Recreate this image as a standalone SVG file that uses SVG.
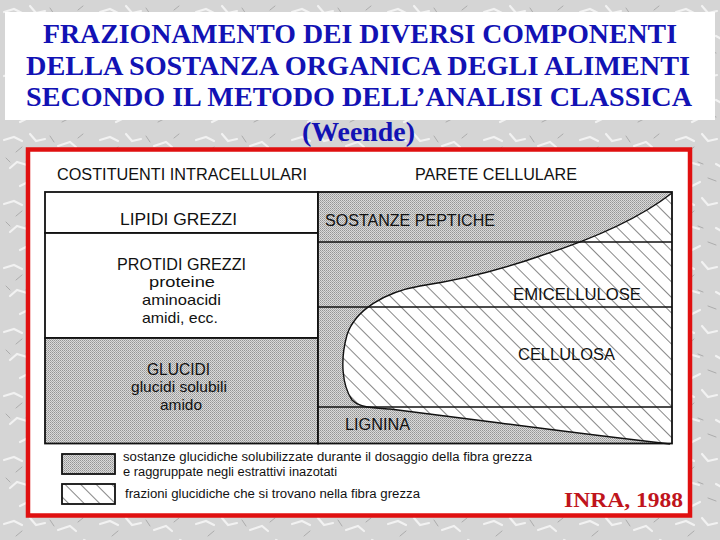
<svg xmlns="http://www.w3.org/2000/svg" width="720" height="540" viewBox="0 0 720 540">
<defs>
  <pattern id="marble" width="96" height="64" patternUnits="userSpaceOnUse">
    <rect width="96" height="64" fill="#d5d5d5"/>
    <path d="M4,12 l10,-3 l8,4 M30,6 l6,7 l9,-2 M58,18 l12,-4 l6,5 M10,40 l7,-6 l10,3 M44,36 l9,5 l8,-6 M70,48 l10,2 l8,-5 M20,58 l8,-4 M84,28 l7,4" fill="none" stroke="#f2f2f2" stroke-width="2.2" stroke-linecap="round"/>
    <path d="M16,24 l6,-5 M50,8 l4,6 M36,50 l8,3 M78,10 l5,-4 M6,30 l4,4 M62,58 l6,-3 M88,44 l-5,6 M26,34 l5,2" fill="none" stroke="#acacac" stroke-width="1" stroke-linecap="round"/>
  </pattern>
  <pattern id="dots" width="2" height="2" patternUnits="userSpaceOnUse">
    <rect width="2" height="2" fill="#dadada"/>
    <rect width="1" height="1" fill="#959595"/>
    <rect x="1" y="1" width="1" height="1" fill="#ababab"/>
  </pattern>
  <pattern id="hatch" width="11" height="11" patternUnits="userSpaceOnUse" patternTransform="rotate(-45)">
    <rect width="11" height="11" fill="#ffffff"/>
    <line x1="0" y1="0" x2="0" y2="11" stroke="#222" stroke-width="1.1"/>
  </pattern>
  <style>
    .title{font-family:"Liberation Serif","Times New Roman",serif;font-weight:bold;font-size:27px;fill:#1212b4}
    .lbl{font-family:"Liberation Sans",Arial,sans-serif;font-size:16px;fill:#111}
    .sub{font-family:"Liberation Sans",Arial,sans-serif;font-size:15px;fill:#111}
    .leg{font-family:"Liberation Sans",Arial,sans-serif;font-size:12.5px;fill:#111}
    .edge{stroke:#111;stroke-width:1.8}
    .thin{fill:none;stroke:#111;stroke-width:1.4}
    .white{fill:#ffffff}
    .gray{fill:url(#dots)}
    .hatched{fill:url(#hatch)}
  </style>
</defs>

<rect width="720" height="540" fill="url(#marble)"/>

<g id="title">
  <rect x="5" y="12" width="710" height="108" fill="#ffffff"/>
  <text class="title" x="43" y="43" textLength="634" lengthAdjust="spacingAndGlyphs">FRAZIONAMENTO DEI DIVERSI COMPONENTI</text>
  <text class="title" x="26" y="75" textLength="664" lengthAdjust="spacingAndGlyphs">DELLA SOSTANZA ORGANICA DEGLI ALIMENTI</text>
  <text class="title" x="26" y="106" textLength="666" lengthAdjust="spacingAndGlyphs">SECONDO IL METODO DELL’ANALISI CLASSICA</text>
  <text class="title" x="302" y="141" textLength="113" lengthAdjust="spacingAndGlyphs">(Weende)</text>
</g>

<g id="frame">
  <rect x="28" y="149.5" width="662" height="366" fill="#ffffff" stroke="#e01010" stroke-width="4.5"/>
</g>

<g id="headers">
  <text class="lbl" x="57" y="180" textLength="250" lengthAdjust="spacingAndGlyphs">COSTITUENTI INTRACELLULARI</text>
  <text class="lbl" x="415" y="180" textLength="162" lengthAdjust="spacingAndGlyphs">PARETE CELLULARE</text>
</g>

<g id="lipidi">
  <rect x="45" y="192" width="273" height="41" class="white edge"/>
  <text class="lbl" x="120" y="225" textLength="117" lengthAdjust="spacingAndGlyphs">LIPIDI GREZZI</text>
</g>
<g id="protidi">
  <rect x="45" y="233" width="273" height="105" class="white edge"/>
  <text class="lbl" x="117" y="270" textLength="129" lengthAdjust="spacingAndGlyphs">PROTIDI GREZZI</text>
  <text class="sub" x="149" y="287" textLength="66" lengthAdjust="spacingAndGlyphs">proteine</text>
  <text class="sub" x="142" y="305" textLength="79" lengthAdjust="spacingAndGlyphs">aminoacidi</text>
  <text class="sub" x="142" y="323" textLength="76" lengthAdjust="spacingAndGlyphs">amidi, ecc.</text>
</g>
<g id="glucidi">
  <rect x="45" y="338" width="273" height="105.5" class="gray edge"/>
  <text class="lbl" x="147" y="375" textLength="63" lengthAdjust="spacingAndGlyphs">GLUCIDI</text>
  <text class="sub" x="131" y="392" textLength="96" lengthAdjust="spacingAndGlyphs">glucidi solubili</text>
  <text class="sub" x="160" y="410" textLength="42" lengthAdjust="spacingAndGlyphs">amido</text>
</g>

<g id="parete">
  <rect x="318" y="192" width="354" height="251.5" class="gray"/>
  <path id="fibra" class="hatched" d="M672,193 C640,218 590,240 540,256 C500,270 460,280 420,286 C385,292 355,310 347,335 C340,360 342,385 352,400 C360,408 375,408 390,409 L500,423 Q600,436 670,444 L672,444 Z"/>
  <path d="M672,193 C640,218 590,240 540,256 C500,270 460,280 420,286 C385,292 355,310 347,335 C340,360 342,385 352,400 C360,408 375,408 390,409 L500,423 Q600,436 670,444" class="thin"/>
  <line x1="318" y1="242" x2="672" y2="242" class="thin"/>
  <line x1="318" y1="307" x2="672" y2="307" class="thin"/>
  <line x1="318" y1="407" x2="672" y2="407" class="thin"/>
  <rect x="318" y="192" width="354" height="251.5" fill="none" class="edge"/>
  <text class="lbl" x="325" y="226" textLength="170" lengthAdjust="spacingAndGlyphs">SOSTANZE PEPTICHE</text>
  <text class="lbl" x="513" y="300" textLength="128" lengthAdjust="spacingAndGlyphs">EMICELLULOSE</text>
  <text class="lbl" x="518" y="360" textLength="97" lengthAdjust="spacingAndGlyphs">CELLULOSA</text>
  <text class="lbl" x="345" y="430" textLength="65" lengthAdjust="spacingAndGlyphs">LIGNINA</text>
</g>

<g id="legend">
  <rect x="62" y="454" width="53" height="20" class="gray edge"/>
  <rect x="62" y="484" width="53" height="20" class="hatched edge"/>
  <text class="leg" x="123" y="461" textLength="409" lengthAdjust="spacingAndGlyphs">sostanze glucidiche solubilizzate durante il dosaggio della fibra grezza</text>
  <text class="leg" x="123" y="475.5" textLength="214" lengthAdjust="spacingAndGlyphs">e raggruppate negli estrattivi inazotati</text>
  <text class="leg" x="125" y="498" textLength="295" lengthAdjust="spacingAndGlyphs">frazioni glucidiche che si trovano nella fibra grezza</text>
</g>

<g id="source">
  <text x="564" y="507" textLength="119" lengthAdjust="spacingAndGlyphs" style="font-family:'Liberation Serif','Times New Roman',serif;font-weight:bold;font-size:22px;fill:#c0141c">INRA, 1988</text>
</g>
</svg>
